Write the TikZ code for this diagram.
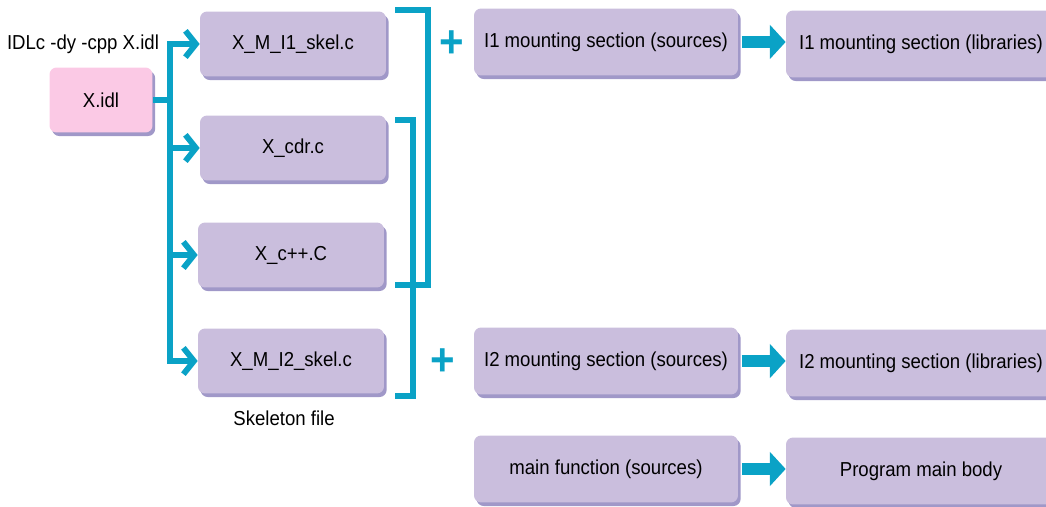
\documentclass[tikz,border=0pt]{standalone}
\usepackage{fontspec}
\setmainfont[FakeStretch=0.92]{Liberation Sans}
\usetikzlibrary{arrows.meta, positioning, shadows}

\definecolor{flowblue}{RGB}{10,162,198}
\definecolor{filebox}{RGB}{202,190,221}
\definecolor{fileshade}{RGB}{160,152,200}
\definecolor{idlpink}{RGB}{251,201,229}

\begin{document}
\begin{tikzpicture}[x=0.02cm, y=-0.02cm,
    font=\fontsize{11.5}{13}\selectfont,
    file/.style={rectangle, rounded corners=4pt, fill=filebox, minimum width=3.72cm, minimum height=1.3cm, inner sep=2pt,
        drop shadow={shadow xshift=1.5pt, shadow yshift=-2pt, fill=fileshade, opacity=1}},
    idl/.style={file, fill=idlpink, minimum width=2.06cm},
    part/.style={file, minimum width=5.28cm, minimum height=1.34cm},
    lib/.style={part, minimum width=5.4cm},
    wire/.style={line width=3.3pt, flowblue},
    feed/.style={wire, -{Straight Barb[length=6pt,width=15pt]}},
    bracket/.style={line width=3.3pt, flowblue},
    build/.style={line width=6.5pt, flowblue, -{Triangle[length=9pt,width=19pt]}, shorten <=2pt},
    plus/.style={text=flowblue, font=\fontsize{26}{26}\selectfont\bfseries, inner sep=0pt}
]
    \useasboundingbox (0,0) rectangle (1046,507);

    % IDL input and compiler call
    \node[idl] (idl) at (101,100) {X.idl};
    \node (cmd) at (83,44) {IDLc -dy -cpp X.idl};

    % Generated skeleton files
    \node[file] (skel1) at (293,44) {X\_M\_I1\_skel.c};
    \node[file] (skel2) at (293,148) {X\_cdr.c};
    \node[file] (skel3) at (291,255) {X\_c++.C};
    \node[file] (skel4) at (291,361) {X\_M\_I2\_skel.c};
    \node (skelnote) at (284,418) {Skeleton file};

    % Mounting sections and libraries
    \node[part] (src1) at (606,42) {I1 mounting section (sources)};
    \node[lib] (lib1) at (921,44) {I1 mounting section (libraries)};
    \node[part] (src2) at (606,361) {I2 mounting section (sources)};
    \node[lib] (lib2) at (921,363) {I2 mounting section (libraries)};
    \node[part] (mainsrc) at (606,469) {main function (sources)};
    \node[lib] (mainlib) at (921,471) {Program main body};

    \node[plus] (plus1) at (452,44) {+};
    \node[plus] (plus2) at (443,362) {+};

    % Fan-out from the IDL file
    \coordinate (fork) at (170,100);
    \draw[wire] (idl.east) -- (fork);
    \foreach \n in {1,...,4} {
        \draw[feed] (fork) |- (skel\n);
    }

    % Grouping brackets
    \draw[bracket] (395,10) -- (428,10) -- (428,285) -- (395,285);
    \draw[bracket] (395,120) -- (413,120) -- (413,396) -- (395,396);

    % Build steps
    \draw[build] (src1.east) -- (src1.east -| lib1.west);
    \draw[build] (src2.east) -- (src2.east -| lib2.west);
    \draw[build] (mainsrc.east) -- (mainsrc.east -| mainlib.west);
\end{tikzpicture}
\end{document}
